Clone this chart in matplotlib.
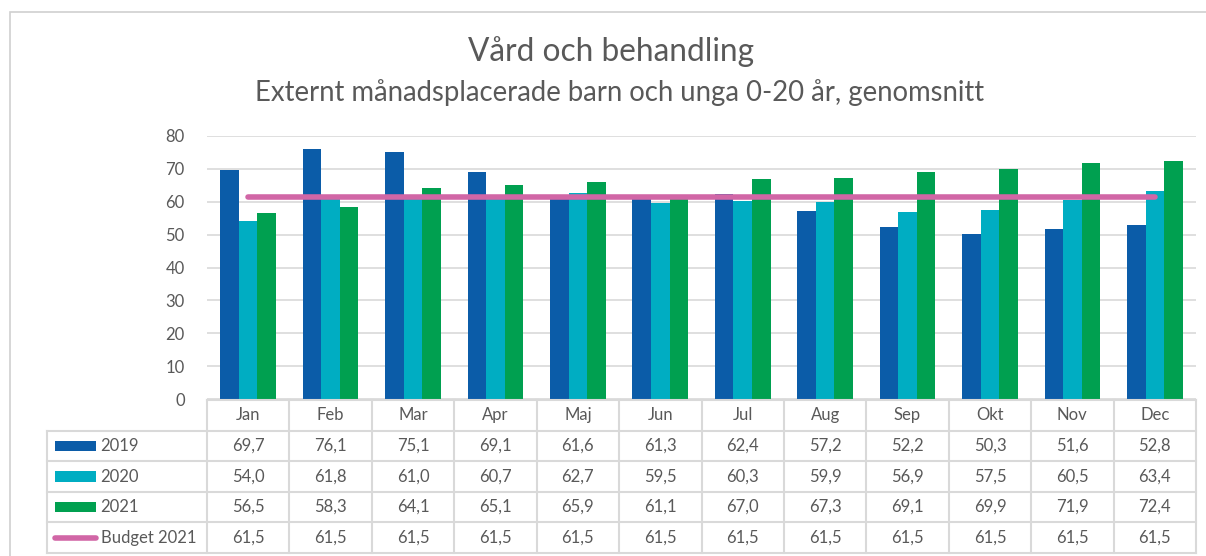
import matplotlib.pyplot as plt
from matplotlib.patches import Rectangle
import numpy as np

# ---------------- Data ----------------
months = ["Jan", "Feb", "Mar", "Apr", "Maj", "Jun", "Jul", "Aug", "Sep", "Okt", "Nov", "Dec"]
v2019 = [69.7, 76.1, 75.1, 69.1, 61.6, 61.3, 62.4, 57.2, 52.2, 50.3, 51.6, 52.8]
v2020 = [54.0, 61.8, 61.0, 60.7, 62.7, 59.5, 60.3, 59.9, 56.9, 57.5, 60.5, 63.4]
v2021 = [56.5, 58.3, 64.1, 65.1, 65.9, 61.1, 67.0, 67.3, 69.1, 69.9, 71.9, 72.4]
budget = [61.5] * 12
series_names = ["2019", "2020", "2021", "Budget 2021"]

c2019 = "#0B5CA8"
c2020 = "#00ADC2"
c2021 = "#00A050"
cbud = "#D166A6"
grid_c = "#D9D9D9"
txt_c = "#595959"

plt.rcParams['font.family'] = ['Lato', 'DejaVu Sans']

W, H = 1206, 556
fig = plt.figure(figsize=(W / 100, H / 100), dpi=100)

def box(x0, y0, x1, y1):
    return [x0 / W, 1 - y1 / H, (x1 - x0) / W, (y1 - y0) / H]

# outer chart border
fig.patches.append(Rectangle((10 / W, -0.1), 1.2, 1 - 12 / H + 0.1, transform=fig.transFigure,
                             fill=False, edgecolor="#D0D0D0", linewidth=1.2))

ax = fig.add_axes(box(207, 136, 1196, 399))
x = np.arange(len(months))
bw = 0.225
ax.bar(x - bw, v2019, bw, color=c2019, zorder=3)
ax.bar(x, v2020, bw, color=c2020, zorder=3)
ax.bar(x + bw, v2021, bw, color=c2021, zorder=3)
ax.plot(x, budget, color=cbud, linewidth=4, solid_capstyle="round", zorder=4)

ax.set_xlim(-0.5, len(months) - 0.5)
ax.set_ylim(0, 80)
ax.set_yticks(range(0, 81, 10))
ax.yaxis.grid(True, color=grid_c, linewidth=1.2, zorder=0)
ax.set_xticks([])
for s in ax.spines.values():
    s.set_visible(False)
ax.tick_params(axis="y", length=0, pad=16, labelsize=12, labelcolor=txt_c)

# ---------------- data table ----------------
tab = fig.add_axes(box(47, 400, 1196, 553))
left = -0.5 - 160 / ((1196 - 207) / 12)
tab.set_xlim(left, len(months) - 0.5)
tab.set_ylim(5, 0)
tab.axis("off")

lw = 1.5
# horizontal lines
tab.plot([-0.5, len(months) - 0.5], [0, 0], color=grid_c, lw=lw, clip_on=False)
for r in range(1, 6):
    tab.plot([left, len(months) - 0.5], [r, r], color=grid_c, lw=lw, clip_on=False)
# vertical lines
tab.plot([left, left], [1, 5], color=grid_c, lw=lw, clip_on=False)
for i in range(len(months) + 1):
    tab.plot([i - 0.5, i - 0.5], [0, 5], color=grid_c, lw=lw, clip_on=False)

for i, m in enumerate(months):
    tab.text(i, 0.5, m, ha="center", va="center", fontsize=12, color=txt_c)

rows = [v2019, v2020, v2021, budget]
colors = [c2019, c2020, c2021, cbud]
for r, (vals, col, name) in enumerate(zip(rows, colors, series_names)):
    yc = r + 1.5
    for i, v in enumerate(vals):
        tab.text(i, yc, f"{v:.1f}".replace(".", ","), ha="center", va="center",
                 fontsize=12, color=txt_c)
    mx0 = left + 0.1
    mx1 = left + 0.1 + 0.5
    if name.startswith("Budget"):
        tab.plot([mx0, mx1], [yc, yc], color=col, lw=4, solid_capstyle="round")
    else:
        tab.add_patch(Rectangle((mx0, yc - 0.17), mx1 - mx0, 0.34, color=col, lw=0))
    tab.text(mx1 + 0.05, yc, name, ha="left", va="center", fontsize=12, color=txt_c)

fig.text(611 / W, 1 - 52 / H, "Vård och behandling", ha="center", va="center",
         fontsize=22.8, color=txt_c)
fig.text(620 / W, 1 - 93 / H, "Externt månadsplacerade barn och unga 0-20 år, genomsnitt",
         ha="center", va="center", fontsize=19.8, color=txt_c)

fig.savefig("out.png", dpi=100)
